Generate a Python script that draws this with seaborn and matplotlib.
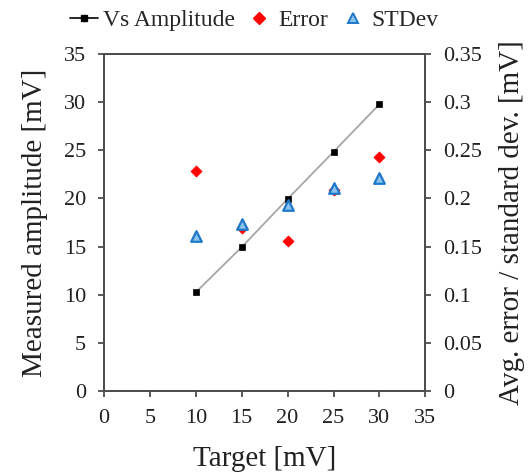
import matplotlib
matplotlib.use("Agg")
import matplotlib.pyplot as plt
import seaborn as sns
import pandas as pd
from matplotlib.lines import Line2D

target = [10, 15, 20, 25, 30]
vs_amplitude = [10.25, 14.95, 19.95, 24.85, 29.8]
error = [0.229, 0.169, 0.156, 0.209, 0.243]
stdev = [0.161, 0.173, 0.193, 0.211, 0.221]
x_ticks = [0, 5, 10, 15, 20, 25, 30, 35]
y_ticks = [0, 5, 10, 15, 20, 25, 30, 35]
y2_ticks = [0, 0.05, 0.1, 0.15, 0.2, 0.25, 0.3, 0.35]
y2_labels = ["0", "0.05", "0.1", "0.15", "0.2", "0.25", "0.3", "0.35"]

sns.set_theme(style="white")
plt.rcParams['font.family'] = ['Liberation Serif', 'DejaVu Serif']

df = pd.DataFrame({"target": target, "vs": vs_amplitude, "error": error, "stdev": stdev})

fig = plt.figure(figsize=(5.32, 4.75), dpi=100)
ax = fig.add_axes([0.1955, 0.177, 0.604, 0.709])
ax2 = ax.twinx()

spine_col = "#4d4d4d"
sns.lineplot(data=df, x="target", y="vs", ax=ax, color="#a6a6a6", lw=1.3, zorder=2)
sns.scatterplot(data=df, x="target", y="vs", ax=ax, marker="s", s=22, color="black",
                edgecolor="black", linewidth=0.5, zorder=3)
sns.scatterplot(data=df, x="target", y="error", ax=ax2, marker="D", s=32, color="#ff0000",
                edgecolor="#ff0000", linewidth=0.5, zorder=3)
sns.scatterplot(data=df, x="target", y="stdev", ax=ax2, marker="^", s=58, color="#8cc4ee",
                edgecolor="#1f78c8", linewidth=1.6, zorder=4)

ax.set_xlim(0, 35)
ax.set_ylim(0, 35)
ax2.set_ylim(0, 0.35)
ax.set_xticks(x_ticks)
ax.set_yticks(y_ticks)
ax2.set_yticks(y2_ticks)
ax2.set_yticklabels(y2_labels)

ax.set_xlabel("Target [mV]", fontsize=21, color="#222222", labelpad=13)
ax.set_ylabel("Measured amplitude [mV]", fontsize=21, color="#222222", labelpad=11)
ax2.set_ylabel("Avg. error / standard dev. [mV]", fontsize=21, color="#222222", labelpad=12)

for a in (ax, ax2):
    for s in a.spines.values():
        s.set_color(spine_col)
        s.set_linewidth(1.3)
    a.tick_params(axis="both", which="both", direction="out", length=4, width=1.3,
                  color=spine_col, labelsize=16, labelcolor="#222222", pad=9)
ax.tick_params(axis="x", bottom=True, top=False)
ax.tick_params(axis="y", left=True, right=False)
ax2.tick_params(axis="y", right=True, left=False)
ax.grid(False)
ax2.grid(False)

handles = [
    Line2D([0], [0], color="black", lw=1.2, marker="s", markersize=4, markerfacecolor="black"),
    Line2D([0], [0], color="none", marker="D", markersize=6, markerfacecolor="#ff0000",
           markeredgecolor="#ff0000"),
    Line2D([0], [0], color="none", marker="^", markersize=7, markerfacecolor="#8cc4ee",
           markeredgecolor="#1f78c8", markeredgewidth=1.4),
]
fig.legend(handles, ["Vs Amplitude", "Error", "STDev"], loc="upper center",
           bbox_to_anchor=(0.478, 1.025), ncol=3, frameon=False, fontsize=17,
           handlelength=1.2, handletextpad=0.2, columnspacing=0.45)

fig.savefig("out.png", dpi=100)
